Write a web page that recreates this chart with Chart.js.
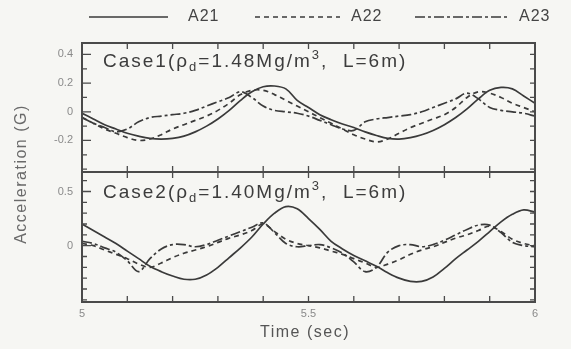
<!DOCTYPE html>
<html><head><meta charset="utf-8">
<script src="https://cdn.jsdelivr.net/npm/chart.js@4/dist/chart.umd.min.js"></script>
<style>
html,body{margin:0;padding:0;background:#f6f6f3;}
#wrap{position:relative;width:571px;height:349px;overflow:hidden;}
canvas{position:absolute;left:0;top:0;}
</style></head><body>
<div id="wrap"><canvas id="c1" width="571" height="349"></canvas><canvas id="c2" width="571" height="349"></canvas></div>
<script>
// ---- data ----
const time = [5.000,5.025,5.050,5.075,5.100,5.125,5.150,5.175,5.200,5.225,5.250,5.275,5.300,5.325,5.350,5.375,5.400,5.425,5.450,5.475,5.500,5.525,5.550,5.575,5.600,5.625,5.650,5.675,5.700,5.725,5.750,5.775,5.800,5.825,5.850,5.875,5.900,5.925,5.950,5.975,6.000];
const seriesNames = ['A21','A22','A23'];
const xTickLabels = [5, 5.5, 6];
const case1Ticks = [-0.2, 0, 0.2, 0.4];
const case2Ticks = [0, 0.5];
// Case 1 (rho_d = 1.48 Mg/m^3)
const case1A21 = [-0.01,-0.05,-0.09,-0.12,-0.15,-0.17,-0.185,-0.19,-0.185,-0.17,-0.14,-0.10,-0.05,0.01,0.08,0.14,0.175,0.18,0.16,0.08,0.03,-0.02,-0.055,-0.085,-0.11,-0.14,-0.165,-0.185,-0.19,-0.18,-0.16,-0.13,-0.09,-0.04,0.02,0.09,0.15,0.17,0.16,0.11,0.06];
const case1A22 = [-0.04,-0.08,-0.12,-0.15,-0.18,-0.20,-0.19,-0.16,-0.12,-0.09,-0.06,-0.03,0.01,0.06,0.12,0.15,0.15,0.12,0.08,0.04,0.00,-0.04,-0.08,-0.12,-0.16,-0.19,-0.21,-0.19,-0.15,-0.11,-0.08,-0.05,-0.02,0.03,0.10,0.14,0.13,0.10,0.06,0.03,0.00];
const case1A23 = [-0.04,-0.08,-0.11,-0.14,-0.12,-0.07,-0.04,-0.03,-0.02,-0.01,0.01,0.04,0.07,0.10,0.14,0.10,0.04,0.01,0.00,-0.01,-0.03,-0.06,-0.09,-0.12,-0.13,-0.07,-0.05,-0.04,-0.03,-0.02,0.00,0.03,0.06,0.09,0.13,0.09,0.03,0.01,0.00,-0.01,-0.03];
// Case 2 (rho_d = 1.40 Mg/m^3)
const case2A21 = [0.20,0.14,0.08,0.02,-0.05,-0.12,-0.19,-0.24,-0.28,-0.31,-0.31,-0.27,-0.20,-0.11,-0.02,0.08,0.20,0.30,0.36,0.34,0.25,0.15,0.04,-0.03,-0.09,-0.14,-0.19,-0.25,-0.30,-0.33,-0.33,-0.29,-0.21,-0.12,-0.04,0.04,0.13,0.22,0.29,0.33,0.31];
const case2A22 = [0.02,0.00,-0.04,-0.08,-0.12,-0.17,-0.20,-0.16,-0.11,-0.07,-0.04,-0.01,0.03,0.07,0.10,0.14,0.20,0.13,0.06,0.02,0.00,-0.02,-0.05,-0.08,-0.12,-0.16,-0.20,-0.17,-0.13,-0.08,-0.04,-0.01,0.03,0.07,0.10,0.14,0.18,0.13,0.06,0.02,0.00];
const case2A23 = [0.04,0.02,-0.02,-0.06,-0.14,-0.24,-0.12,-0.03,0.01,0.01,-0.01,0.01,0.05,0.09,0.13,0.17,0.21,0.12,0.02,-0.01,0.00,0.01,-0.02,-0.07,-0.15,-0.24,-0.20,-0.06,0.00,0.01,-0.01,0.01,0.05,0.10,0.15,0.19,0.19,0.12,0.03,0.00,-0.01];

// ---- styles ----
const INK = '#3a3a3a';
const dashes = [[], [5,4], [10,3,3,3]];
const W = 571, H = 349;
const LEFT = 82, RIGHT = 535;
const FONT = '"Liberation Sans", Arial, sans-serif';

function pts(vals){ return time.map((t,i)=>({x:t,y:vals[i]})); }
function makeDatasets(arrs){
  return arrs.map((a,i)=>({label:seriesNames[i], data:pts(a), borderColor:INK, borderWidth:1.7,
    borderDash:dashes[i], pointRadius:0, tension:0.35, fill:false}));
}

function frameTicks(yMinor, yMajor){
  return {
    id:'frame',
    afterDatasetsDraw(chart){
      const ctx=chart.ctx, a=chart.chartArea, xs=chart.scales.x, ys=chart.scales.y;
      ctx.save();
      ctx.strokeStyle='#4a4a4a'; ctx.lineWidth=2; ctx.setLineDash([]);
      ctx.strokeRect(a.left,a.top,a.right-a.left,a.bottom-a.top);
      ctx.lineWidth=1.3;
      ctx.beginPath();
      for(let k=1;k<10;k++){
        const px=xs.getPixelForValue(5+k/10);
        ctx.moveTo(px,a.top); ctx.lineTo(px,a.top+6);
        ctx.moveTo(px,a.bottom); ctx.lineTo(px,a.bottom-6);
      }
      yMinor.forEach(v=>{
        const py=ys.getPixelForValue(v);
        const L = yMajor.includes(v)?9:5;
        ctx.moveTo(a.left,py); ctx.lineTo(a.left+L,py);
        ctx.moveTo(a.right,py); ctx.lineTo(a.right-5,py);
      });
      ctx.stroke();
      ctx.restore();
    }
  };
}

function drawCase(ctx, x, y, num, rho){
  ctx.save();
  ctx.fillStyle='#3c3c3c';
  ctx.textBaseline='alphabetic';
  ctx.letterSpacing='2px';
  const big='19px '+FONT, small='13px '+FONT;
  const parts=[['Case'+num+'(\u03C1',big,0],['d',small,4],['='+rho+'Mg/m',big,0],['3',small,-8],[',  L=6m)',big,0]];
  let cx=x;
  parts.forEach(([t,f,dy])=>{ ctx.font=f; ctx.fillText(t,cx,y+dy); cx+=ctx.measureText(t).width; });
  ctx.restore();
}

const legendPlugin = {
  id:'legendTop',
  afterDraw(chart){
    const ctx=chart.ctx;
    ctx.save();
    ctx.strokeStyle=INK; ctx.lineWidth=1.6;
    const segs=[[89,168,188],[255,340,351],[415,508,519]];
    ctx.font='16px '+FONT;
    ctx.fillStyle='#444'; ctx.textBaseline='middle'; ctx.letterSpacing='1px';
    segs.forEach(([x0,x1,tx],i)=>{
      ctx.setLineDash(dashes[i]); ctx.beginPath(); ctx.moveTo(x0,17); ctx.lineTo(x1,17); ctx.stroke();
      ctx.fillText(seriesNames[i],tx,17);
    });
    ctx.restore();
    drawCase(ctx,103,67,'1','1.48');
  }
};

const titlesPlugin = {
  id:'titles',
  afterDraw(chart){
    const ctx=chart.ctx;
    ctx.save();
    ctx.fillStyle='#555';
    ctx.font='16px '+FONT;
    ctx.letterSpacing='1.5px';
    ctx.textAlign='center'; ctx.textBaseline='middle';
    ctx.fillText('Time (sec)', 305, 333);
    ctx.fillStyle='#6a6a6a';
    ctx.translate(22,174); ctx.rotate(-Math.PI/2);
    ctx.fillText('Acceleration (G)',0,0);
    ctx.restore();
    drawCase(ctx,103,198,'2','1.40');
  }
};

function range(a,b,s){ const r=[]; for(let v=a; v<=b+1e-9; v+=s) r.push(Math.round(v*10)/10); return r; }

function baseOptions(ymin,ymax,yTicks,padTop,padBottom,showX){
  return {
    responsive:false, animation:false, devicePixelRatio:1,
    layout:{padding:{top:padTop,bottom:showX?0:padBottom,left:0,right:W-RIGHT}},
    plugins:{legend:{display:false},tooltip:{enabled:false}},
    scales:{
      x:{type:'linear',min:5,max:6,display:showX,
        grid:{display:false,drawTicks:false},border:{display:false},
        afterBuildTicks:s=>{s.ticks=xTickLabels.map(v=>({value:v}));},
        afterFit:s=>{ if(showX) s.height=padBottom; },
        ticks:{padding:5,color:'#8a8a8a',font:{size:11,family:FONT},
          callback:v=>String(v), maxRotation:0, autoSkip:false}},
      y:{type:'linear',min:ymin,max:ymax,
        grid:{display:false,drawTicks:false},border:{display:false},
        afterBuildTicks:s=>{s.ticks=yTicks.map(v=>({value:v}));},
        afterFit:s=>{s.width=LEFT;},
        ticks:{padding:9,color:'#8a8a8a',font:{size:11,family:FONT},
          callback:v=>String(v), autoSkip:false}}
    }
  };
}

new Chart(document.getElementById('c1'),{
  type:'line',
  data:{datasets:makeDatasets([case1A21,case1A22,case1A23])},
  options:baseOptions(-0.42,0.48,case1Ticks,43,H-172,false),
  plugins:[frameTicks(range(-0.4,0.4,0.1),case1Ticks),legendPlugin]
});
new Chart(document.getElementById('c2'),{
  type:'line',
  data:{datasets:makeDatasets([case2A21,case2A22,case2A23])},
  options:baseOptions(-0.52,0.68,case2Ticks,172,H-302,true),
  plugins:[frameTicks(range(-0.5,0.6,0.1),case2Ticks),titlesPlugin]
});
</script>
</body></html>
